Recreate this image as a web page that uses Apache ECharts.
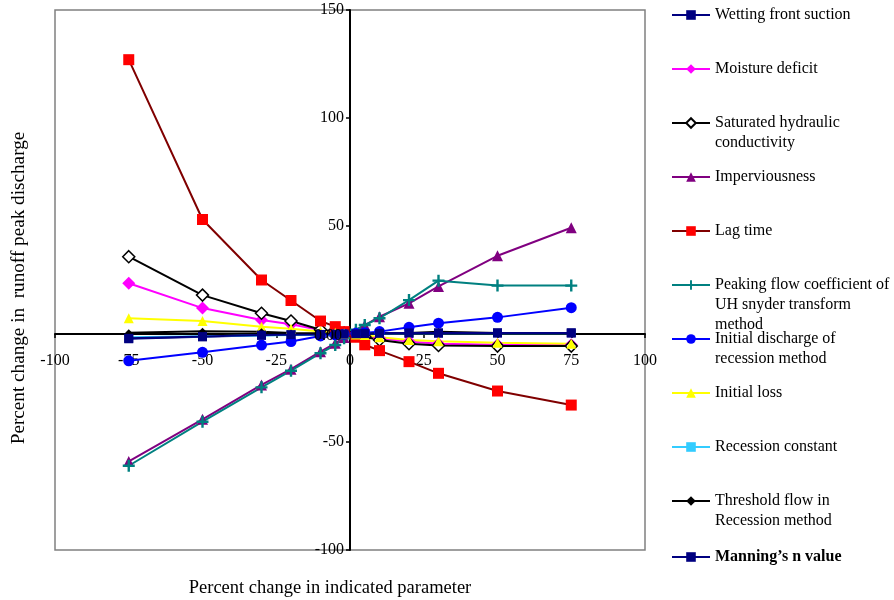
<!DOCTYPE html>
<html>
<head>
<meta charset="utf-8">
<script src="https://cdn.jsdelivr.net/npm/echarts@6/dist/echarts.min.js"></script>
<style>html,body{margin:0;padding:0;background:#fff}#c{width:894px;height:600px}</style>
</head>
<body>
<div id="c"></div>
<script>
// ---- data ----
const xs = [-75, -50, -30, -20, -10, -5, -2, 2, 5, 10, 20, 30, 50, 75];
const seriesNames = [
  'Wetting front suction',
  'Moisture deficit',
  'Saturated hydraulic conductivity',
  'Imperviousness',
  'Lag time',
  'Peaking flow coefficient of UH snyder transform method',
  'Initial discharge of recession method',
  'Initial loss',
  'Recession constant',
  'Threshold flow in Recession method',
  'Manning\u2019s n value'
];
const legendLabels = [
  ['Wetting front suction'],
  ['Moisture deficit'],
  ['Saturated hydraulic', 'conductivity'],
  ['Imperviousness'],
  ['Lag time'],
  ['Peaking flow coefficient of', 'UH snyder transform', 'method'],
  ['Initial discharge of', 'recession method'],
  ['Initial loss'],
  ['Recession constant'],
  ['Threshold flow in', 'Recession method'],
  ['Manning\u2019s n value']
];
const wettingFront   = [-2.2, -1.3, -0.6, -0.4, -0.2, -0.1, 0, 0, 0.1, 0.2, 0.3, 0.4, 0.5, 0.5];
const moistureDef    = [23.5, 12, 6.5, 4.5, 1.8, 0.9, 0.3, -0.4, -1, -2, -3.5, -4.5, -5, -5];
const satHydCond     = [35.8, 18, 9.6, 6, 2, 1, 0.4, -0.5, -1.3, -2.8, -4.5, -5.3, -5.6, -5.6];
const imperviousness = [-59, -39.5, -23.6, -16.3, -8.2, -4.3, -1.6, 1.6, 4, 8, 14.2, 22, 36.2, 49.2];
const lagTime        = [127, 53, 25, 15.5, 6, 3.4, 1.1, -1.5, -5, -7.7, -12.8, -18.2, -26.4, -32.9];
const peakingCoef    = [-61, -40.6, -24.7, -17, -8.9, -5.1, -2, 2, 4.2, 7.3, 15.7, 24.7, 22.4, 22.4];
const initDischarge  = [-12.4, -8.5, -5.1, -3.5, -0.9, -0.4, -0.1, 0.3, 0.6, 1.1, 3.1, 5, 7.7, 12.2];
const initLoss       = [7.3, 6, 3.4, 2.4, 1.2, 0.6, 0.2, -0.2, -0.5, -1.5, -2.8, -3.3, -4, -4.5];
const recessionConst = [-1.5, -1.0, -0.7, -0.5, -0.3, -0.1, 0, 0, 0.1, 0.2, 0.3, 0.3, 0.4, 0.4];
const thresholdFlow  = [0.6, 1.3, 1.0, 0.5, 0.3, 0.1, 0, 0, 0, 0.3, 0.5, 1.0, 0.5, 0.5];
const manningsN      = [-2, -1.2, -0.5, -0.3, -0.2, -0.1, 0, 0.1, 0.2, 0.3, 0.5, 0.5, 0.5, 0.5];
const xTicks = { min: -100, max: 100, interval: 25 };
const yTicks = { min: -100, max: 150, interval: 50 };
const yZeroLabel = '0.00';

const allValues = [wettingFront, moistureDef, satHydCond, imperviousness, lagTime, peakingCoef,
  initDischarge, initLoss, recessionConst, thresholdFlow, manningsN];

// ---- styles ----
const FONT = 'Liberation Serif';
const plusPath = 'path://M4,0L6,0L6,4L10,4L10,6L6,6L6,10L4,10L4,6L0,6L0,4L4,4Z';
const styles = [
  { line: '#000080', symbol: 'rect', size: 9, fill: '#000080' },
  { line: '#FF00FF', symbol: 'diamond', size: 13, fill: '#FF00FF' },
  { line: '#000000', symbol: 'diamond', size: 12, fill: '#FFFFFF', border: '#000000' },
  { line: '#800080', symbol: 'triangle', size: 11, fill: '#800080' },
  { line: '#800000', symbol: 'rect', size: 11, fill: '#FF0000' },
  { line: '#008080', symbol: plusPath, size: 12, fill: '#008080' },
  { line: '#0000FF', symbol: 'circle', size: 11, fill: '#0000FF' },
  { line: '#FFFF00', symbol: 'triangle', size: 10, fill: '#FFFF00' },
  { line: '#33CCFF', symbol: 'rect', size: [8, 3], fill: '#33CCFF' },
  { line: '#000000', symbol: 'diamond', size: 7, fill: '#000000' },
  { line: '#000080', symbol: 'rect', size: 9, fill: '#000080' }
];
const legendCenters = [15, 69, 123, 177, 231, 285, 339, 393, 447, 501, 557];
const LH = 20;

const series = seriesNames.map((name, i) => {
  const st = styles[i];
  return {
    name: name,
    type: 'line',
    data: xs.map((x, k) => [x, allValues[i][k]]),
    symbol: st.symbol,
    symbolSize: st.size,
    showAllSymbol: true,
    lineStyle: { color: st.line, width: 2 },
    itemStyle: { color: st.fill, borderColor: st.border || st.fill, borderWidth: st.border ? 1.5 : 0 },
    emphasis: { disabled: true },
    animation: false
  };
});

const legends = seriesNames.map((name, i) => {
  const lines = legendLabels[i];
  const n = lines.length;
  const padded = new Array(n - 1).fill('').concat(lines).join('\n');
  return {
    data: [name],
    orient: 'vertical',
    left: 671,
    top: legendCenters[i] - (2 * n - 1) * LH / 2,
    padding: 0,
    itemWidth: 38,
    itemHeight: 12,
    selectedMode: false,
    formatter: () => padded,
    textStyle: {
      fontFamily: FONT, fontSize: 16, color: '#000', lineHeight: LH,
      fontWeight: i === seriesNames.length - 1 ? 'bold' : 'normal'
    }
  };
});

const chart = echarts.init(document.getElementById('c'), null, { renderer: 'canvas' });
const option = {
  backgroundColor: '#fff',
  animation: false,
  grid: { left: 55, right: 249, top: 10, bottom: 50, show: true, borderColor: '#808080', borderWidth: 1.5,
    containLabel: false, outerBoundsMode: 'none' },
  legend: legends,
  xAxis: {
    type: 'value', min: xTicks.min, max: xTicks.max, interval: xTicks.interval,
    position: 'bottom', offset: 0,
    name: 'Percent change in indicated parameter',
    nameLocation: 'middle', nameGap: 245,
    nameTextStyle: { fontFamily: FONT, fontSize: 18.5, color: '#000', padding: [0, 40, 0, 0] },
    axisLine: { onZero: false, lineStyle: { color: '#000', width: 2 } },
    axisTick: { show: true, length: 4, lineStyle: { color: '#000', width: 1.5 } },
    axisLabel: { fontFamily: FONT, fontSize: 16, color: '#000', margin: 19 },
    splitLine: { show: false }
  },
  yAxis: {
    type: 'value', min: yTicks.min, max: yTicks.max, interval: yTicks.interval,
    position: 'left', offset: 0,
    name: 'Percent change in  runoff peak discharge',
    nameLocation: 'middle', nameGap: 322, nameRotate: 90,
    nameTextStyle: { fontFamily: FONT, fontSize: 19.2, color: '#000', padding: [0, 16, 0, 0] },
    axisLine: { onZero: false, lineStyle: { color: '#000', width: 2 } },
    axisTick: { show: true, length: 4, lineStyle: { color: '#000', width: 1.5 } },
    axisLabel: { fontFamily: FONT, fontSize: 16, color: '#000', margin: 6,
      formatter: v => (v === 0 ? yZeroLabel : String(v)) },
    splitLine: { show: false }
  },
  series: series
};
chart.setOption(option);
// move both axes (line, ticks, labels) onto the zero crossing using the library's own scales
const pZero = chart.convertToPixel({ gridIndex: 0 }, [0, 0]);
const pMin = chart.convertToPixel({ gridIndex: 0 }, [xTicks.min, yTicks.min]);
chart.setOption({
  xAxis: { offset: -(pMin[1] - pZero[1]) },
  yAxis: { offset: -(pZero[0] - pMin[0]) },
  graphic: [{
    type: 'text', z: 10,
    x: pZero[0] - 8, y: pZero[1] + 2,
    style: { text: yZeroLabel, fontFamily: FONT, fontSize: 16, fill: '#000',
      align: 'right', verticalAlign: 'middle' }
  }]
});
</script>
</body>
</html>
